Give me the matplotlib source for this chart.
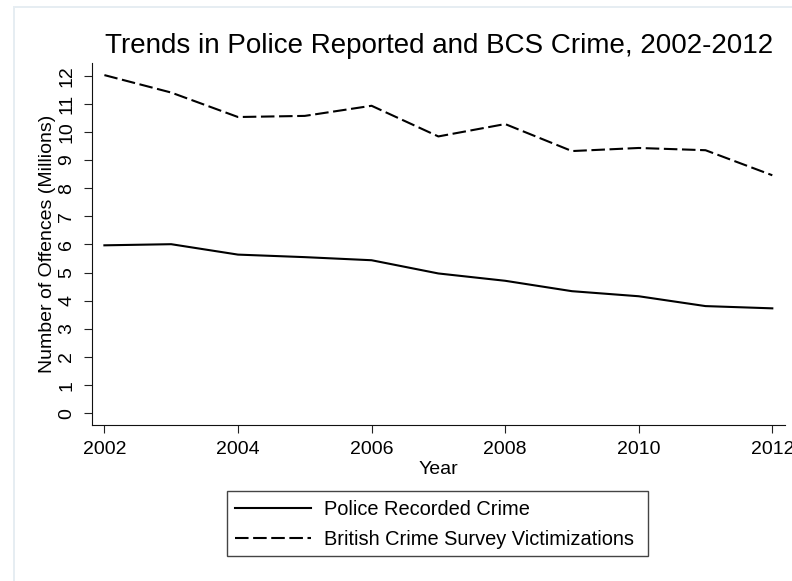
import matplotlib
matplotlib.use("Agg")
import matplotlib.pyplot as plt
from matplotlib.lines import Line2D
from matplotlib.patches import Rectangle

plt.rcParams['font.family'] = ['Liberation Sans', 'DejaVu Sans']

years = [2002, 2003, 2004, 2005, 2006, 2007, 2008, 2009, 2010, 2011, 2012]
police_recorded = [5.97, 6.01, 5.64, 5.55, 5.44, 4.97, 4.71, 4.34, 4.16, 3.81, 3.73]
bcs_victimizations = [12.02, 11.40, 10.53, 10.57, 10.93, 9.84, 10.28, 9.32, 9.43, 9.35, 8.46]
x_ticks = [2002, 2004, 2006, 2008, 2010, 2012]
y_ticks = list(range(0, 13))

W, H = 792, 581
fig = plt.figure(figsize=(W / 100, H / 100), dpi=100)
fig.patch.set_facecolor('white')

# faint frame lines (top / left)
fig.add_artist(Line2D([14.3 / W, 14.3 / W], [0, 1 - 7.3 / H], color='#e6edf2', lw=1.4))
fig.add_artist(Line2D([14.3 / W, 1], [1 - 7.3 / H, 1 - 7.3 / H], color='#e6edf2', lw=1.4))

left, right, top, bottom = 91.7, 785, 63, 425
ax = fig.add_axes([left / W, 1 - bottom / H, (right - left) / W, (bottom - top) / H])
ax.set_facecolor('white')

l1, = ax.plot(years, police_recorded, color='black', lw=1.5, solid_joinstyle='miter')
l2, = ax.plot(years, bcs_victimizations, color='black', lw=1.5, linestyle=(0, (6.5, 2.2)))

ax.set_xlim(2001.81, 2012.19)
ax.set_ylim(-0.416, 12.45)
ax.set_xticks(x_ticks)
ax.set_yticks(y_ticks)
ax.set_xticklabels([str(v) for v in x_ticks])
ax.set_yticklabels([str(v) for v in y_ticks], rotation=90, va='center')

for s in ['top', 'right']:
    ax.spines[s].set_visible(False)
for s in ['left', 'bottom']:
    ax.spines[s].set_linewidth(0.8)
    ax.spines[s].set_color('#111111')

ax.tick_params(axis='both', direction='out', length=5.8, width=0.8, color='#222222',
               labelsize=14, labelcolor='black')
ax.tick_params(axis='x', pad=6)
ax.tick_params(axis='y', pad=6)

fig.text(439.5 / W, 1 - 53.3 / H, 'Trends in Police Reported and BCS Crime, 2002-2012',
         fontsize=20, ha='center', va='baseline')
fig.text(438.4 / W, 1 - 474 / H, 'Year', fontsize=14, ha='center', va='baseline')
fig.text(48 / W, 1 - 244 / H, 'Number of Offences (Millions)', fontsize=14,
         ha='center', va='center', rotation=90)

# legend box
bx0, bx1, by0, by1 = 226.7, 648.3, 490.7, 556.0
fig.add_artist(Rectangle((bx0 / W, 1 - by1 / H), (bx1 - bx0) / W, (by1 - by0) / H,
                         transform=fig.transFigure, facecolor='white',
                         edgecolor='#444444', lw=1.0, zorder=1))
leg = fig.legend([l1, l2], ['Police Recorded Crime', 'British Crime Survey Victimizations'],
                 loc='center left', bbox_to_anchor=(235 / W, 1 - 524.65 / H),
                 fontsize=14.4, frameon=False, handlelength=3.8,
                 handletextpad=0.65, borderpad=0.0, labelspacing=0.52, borderaxespad=0)
leg.set_zorder(2)

fig.savefig('out.png', dpi=100, facecolor='white')
